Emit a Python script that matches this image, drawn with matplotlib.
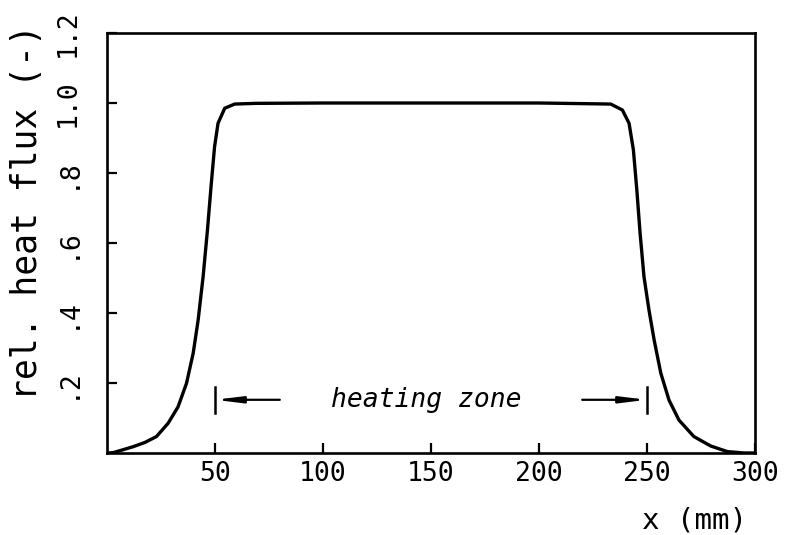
import matplotlib
matplotlib.use("Agg")
import matplotlib.pyplot as plt

# Relative heat flux profile along the heater (x in mm)
x_mm = [0, 2.9, 12.1, 17.5, 22.9, 28.3, 32.9, 36.8, 39.9, 42.2, 44.5, 46.5,
        48.3, 49.8, 51.4, 54.5, 59.1, 69.1, 100, 150, 200, 233.2, 238.6,
        241.7, 243.7, 245.3, 246.8, 248.6, 250.9, 253.3, 256.4, 260.2, 264.8,
        271.7, 279.5, 287.2, 295, 300]
flux = [0.0, 0.001, 0.018, 0.03, 0.047, 0.085, 0.132, 0.199, 0.285, 0.38,
        0.504, 0.637, 0.771, 0.875, 0.942, 0.985, 0.997, 0.999, 1.0, 1.0, 1.0,
        0.997, 0.98, 0.942, 0.866, 0.751, 0.628, 0.504, 0.409, 0.323, 0.228,
        0.151, 0.094, 0.047, 0.02, 0.004, 0.0, 0.0]

x_ticks = [50, 100, 150, 200, 250, 300]
x_tick_labels = ["50", "100", "150", "200", "250", "300"]
y_ticks = [0.2, 0.4, 0.6, 0.8, 1.0, 1.2]
y_tick_labels = [".2", ".4", ".6", ".8", "1.0", "1.2"]

zone_start, zone_end = 50, 250
zone_level = 0.152
zone_arrow_tails = [80, 220]
zone_bar = (0.114, 0.19)

FONT = "DejaVu Sans Mono"
W, H = 790, 535

fig = plt.figure(figsize=(W / 100, H / 100), dpi=100)
ax = fig.add_axes([107 / W, 1 - 453 / H, (755 - 107) / W, (453 - 33) / H])

ax.plot(x_mm, flux, color="black", linewidth=2.4, solid_joinstyle="round",
        solid_capstyle="round")

ax.set_xlim(0, 300)
ax.set_ylim(0, 1.2)
ax.set_xticks(x_ticks)
ax.set_xticklabels(x_tick_labels, fontfamily=FONT, fontsize=19)
ax.set_yticks(y_ticks)
ax.set_yticklabels(y_tick_labels, fontfamily=FONT, fontsize=19,
                   rotation=90, va="center")
ax.tick_params(axis="both", direction="in", length=7, width=1.6,
               color="black")
ax.tick_params(axis="x", pad=6)
ax.tick_params(axis="y", pad=19)
for s in ax.spines.values():
    s.set_linewidth(1.9)

# heating zone marker
for xb in (zone_start, zone_end):
    ax.plot([xb, xb], list(zone_bar), color="black", linewidth=1.8)
for xb, xt in zip((zone_start, zone_end), zone_arrow_tails):
    ax.annotate("", xy=(xb, zone_level), xytext=(xt, zone_level),
                arrowprops=dict(arrowstyle="-|>,head_length=1.3,head_width=0.16",
                                mutation_scale=12, color="black", lw=1.6,
                                shrinkA=0, shrinkB=0))
ax.text(148, zone_level, "heating zone", fontfamily=FONT, style="italic",
        fontsize=19, ha="center", va="center")

fig.text(27 / W, 1 - 212 / H, "rel. heat flux (-)", fontfamily=FONT,
         fontsize=25, rotation=90, ha="center", va="center")
fig.text(694 / W, 1 - 520 / H, "x (mm)", fontfamily=FONT, fontsize=21,
         ha="center", va="center")

fig.savefig("out.png", dpi=100)
